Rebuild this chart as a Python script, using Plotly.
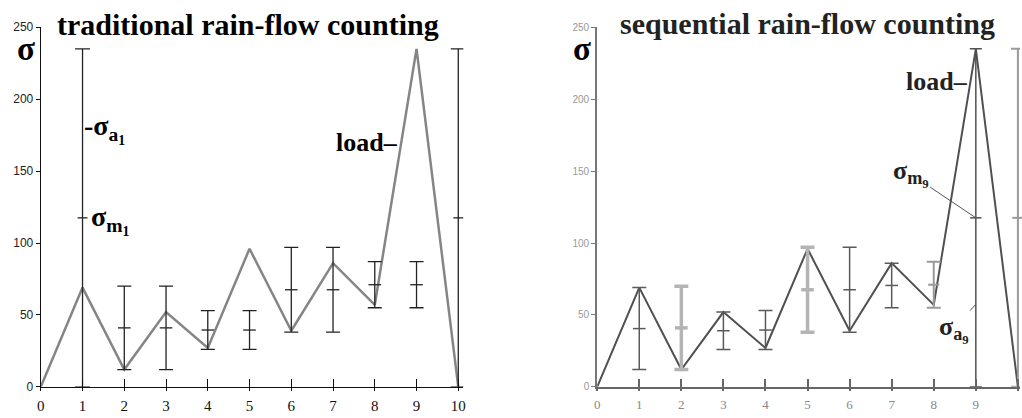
import plotly.graph_objects as go

W, H = 1022, 418

# ---------------- data ----------------
steps = [0, 1, 2, 3, 4, 5, 6, 7, 8, 9, 10]
load = [0, 69, 12, 52, 27, 96, 39, 86, 57, 235, 0]

trad_x = [1, 2, 3, 4, 5, 6, 7, 8, 9, 10]
trad_lo = [0, 12, 12, 26, 26, 38, 38, 55, 55, 0]
trad_hi = [235, 70, 70, 53, 53, 97, 97, 87, 87, 235]

seq_x = [1, 2, 3, 4, 5, 6, 7, 8, 9, 10]
seq_lo = [12, 12, 26, 26, 38, 38, 55, 55, 0, 0]
seq_hi = [69, 70, 52, 53, 97, 97, 86, 87, 235, 235]

y_ticks = [0, 50, 100, 150, 200, 250]
x_ticks = [0, 1, 2, 3, 4, 5, 6, 7, 8, 9, 10]
x_ticktext = ["0", "1", "2", "3", "4", "5", "6", "7", "8", "9", "10"]

titles = ["traditional rain-flow counting", "sequential rain-flow counting"]

SERIF = "Liberation Serif, Times New Roman, serif"
SANS = "Liberation Sans, Arial, sans-serif"


def px(x):
    return x / W


def py(y):
    return 1 - y / H


def bars(xs, lo, hi, idx, color, thick, cap, mean_size, axis):
    xx = [xs[i] for i in idx]
    mid = [(lo[i] + hi[i]) / 2 for i in idx]
    amp = [(hi[i] - lo[i]) / 2 for i in idx]
    return go.Scatter(
        x=xx, y=mid, mode="markers",
        xaxis="x" if axis == 1 else "x2",
        yaxis="y" if axis == 1 else "y2",
        marker=dict(symbol="line-ew", size=mean_size,
                    line=dict(color=color, width=thick)),
        error_y=dict(type="data", array=amp, symmetric=True,
                     color=color, thickness=thick, width=cap),
        showlegend=False, hoverinfo="skip", cliponaxis=False,
    )


fig = go.Figure()

# left panel ---------------------------------------------------------
fig.add_trace(go.Scatter(x=steps, y=load, mode="lines", xaxis="x", yaxis="y",
                         line=dict(color="#858585", width=2.5),
                         showlegend=False, hoverinfo="skip", cliponaxis=False))
fig.add_trace(bars(trad_x, trad_lo, trad_hi, [0, 9], "#222222", 1.3, 7.5, 7, 1))
fig.add_trace(bars(trad_x, trad_lo, trad_hi, list(range(1, 9)), "#222222", 1.3, 7, 9, 1))

# right panel --------------------------------------------------------
fig.add_trace(go.Scatter(x=steps, y=load, mode="lines", xaxis="x2", yaxis="y2",
                         line=dict(color="#505050", width=2),
                         showlegend=False, hoverinfo="skip", cliponaxis=False))
fig.add_trace(bars(seq_x, seq_lo, seq_hi, [1, 4], "#b4b4b4", 3.5, 7, 9, 2))
fig.add_trace(bars(seq_x, seq_lo, seq_hi, [7, 9], "#9a9a9a", 2, 7, 8, 2))
fig.add_trace(bars(seq_x, seq_lo, seq_hi, [0, 2, 3, 5, 6], "#5a5a5a", 1.5, 7, 9, 2))
fig.add_trace(bars(seq_x, seq_lo, seq_hi, [8], "#505050", 1.5, 6, 8, 2))

# invisible traces for the overlay tick axes (short ticks below the x axes)
fig.add_trace(go.Scatter(x=[0], y=[0], xaxis="x3", yaxis="y", mode="markers",
                         marker=dict(opacity=0), showlegend=False, hoverinfo="skip"))
fig.add_trace(go.Scatter(x=[0], y=[0], xaxis="x4", yaxis="y2", mode="markers",
                         marker=dict(opacity=0), showlegend=False, hoverinfo="skip"))

# axes ---------------------------------------------------------------
ydom = [py(393), py(21)]
common_x = dict(tickmode="array", tickvals=x_ticks, ticktext=x_ticktext,
                ticks="inside", ticklen=8, showgrid=False, zeroline=False,
                showline=True, ticklabelstandoff=5)
common_y = dict(tickmode="array", tickvals=y_ticks, range=[0, 250],
                ticks="outside", ticklen=4, showgrid=False, zeroline=False,
                showline=True, domain=ydom)
ovl_x = dict(tickmode="array", tickvals=x_ticks, ticks="outside", ticklen=3,
             showticklabels=False, showgrid=False, zeroline=False, showline=False)

LD = [px(37), px(462)]
RD = [px(596.7), 1.0]
fig.update_layout(
    xaxis=dict(common_x, domain=LD, range=[0, 10.12],
               anchor="y", linecolor="#111", linewidth=1.3, tickcolor="#111",
               tickwidth=1.2, tickfont=dict(family=SERIF, size=15, color="#111")),
    yaxis=dict(common_y, anchor="x", linecolor="#111", linewidth=1.2,
               tickcolor="#111", tickwidth=1,
               tickfont=dict(family=SANS, size=12, color="#222")),
    xaxis2=dict(common_x, domain=RD, range=[0, 10.05],
                anchor="y2", linecolor="#666", linewidth=2, tickcolor="#666",
                tickwidth=1.5, tickfont=dict(family=SERIF, size=13, color="#888")),
    yaxis2=dict(common_y, anchor="x2", linecolor="#777", linewidth=2,
                tickcolor="#777", tickwidth=1.2,
                tickfont=dict(family=SANS, size=10, color="#999")),
    xaxis3=dict(ovl_x, domain=LD, range=[0, 10.12], anchor="y", overlaying="x",
                tickcolor="#111", tickwidth=1.2),
    xaxis4=dict(ovl_x, domain=RD, range=[0, 10.05], anchor="y2", overlaying="x2",
                tickcolor="#666", tickwidth=1.5),
    width=W, height=H, margin=dict(l=0, r=0, t=0, b=0),
    paper_bgcolor="white", plot_bgcolor="white",
)

ann = []
# titles
ann.append(dict(text=titles[0], xref="paper", yref="paper", x=px(245.5), y=py(18),
                xanchor="center", yanchor="middle", showarrow=False,
                font=dict(family=SERIF, size=30, color="#000", weight="bold")))
ann.append(dict(text=titles[1], xref="paper", yref="paper", x=px(808.5), y=py(17),
                xanchor="center", yanchor="middle", showarrow=False,
                font=dict(family=SERIF, size=30, color="#222", weight="bold")))
# big sigma labels
for xp in (22.5, 581):
    ann.append(dict(text="σ", xref="paper", yref="paper", x=px(xp), y=py(43),
                    xanchor="center", yanchor="middle", showarrow=False,
                    borderpad=0,
                    font=dict(family=SERIF, size=33, color="#000", weight="bold")))

lab_font = dict(family=SERIF, size=28, color="#000", weight="bold")
# left panel labels
ann.append(dict(text="-σ<sub>a<sub>1</sub></sub>", xref="x", yref="y", x=1, y=179,
                xanchor="left", yanchor="middle", xshift=-1, showarrow=False,
                font=lab_font))
ann.append(dict(text="σ<sub>m<sub>1</sub></sub>", xref="x", yref="y", x=1, y=116,
                xanchor="left", yanchor="middle", xshift=6, showarrow=False,
                font=lab_font))
ann.append(dict(text="load–", xref="x", yref="y", x=8.6, y=170,
                xanchor="right", yanchor="middle", showarrow=False,
                font=dict(family=SERIF, size=26, color="#000", weight="bold")))
# right panel labels
lab_font2 = dict(family=SERIF, size=26, color="#222", weight="bold")
ann.append(dict(text="load–", xref="x2", yref="y2", x=8.87, y=212,
                xanchor="right", yanchor="middle", showarrow=False,
                font=lab_font2))
ann.append(dict(text="σ<sub>m<sub>9</sub></sub>", xref="x2", yref="y2", x=9, y=117.5,
                axref="x2", ayref="y2", ax=7.45, ay=148, showarrow=True,
                arrowhead=0, arrowwidth=1, arrowcolor="#555",
                font=lab_font2))
ann.append(dict(text="σ<sub>a<sub>9</sub></sub>", xref="x2", yref="y2", x=9, y=57.5,
                axref="x2", ayref="y2", ax=8.47, ay=40, showarrow=True,
                arrowhead=0, arrowwidth=1, arrowcolor="#555",
                font=lab_font2))
fig.update_layout(annotations=ann)

fig.write_html("out.html", config={"displayModeBar": False},
               post_script="document.body.style.margin='0';")
